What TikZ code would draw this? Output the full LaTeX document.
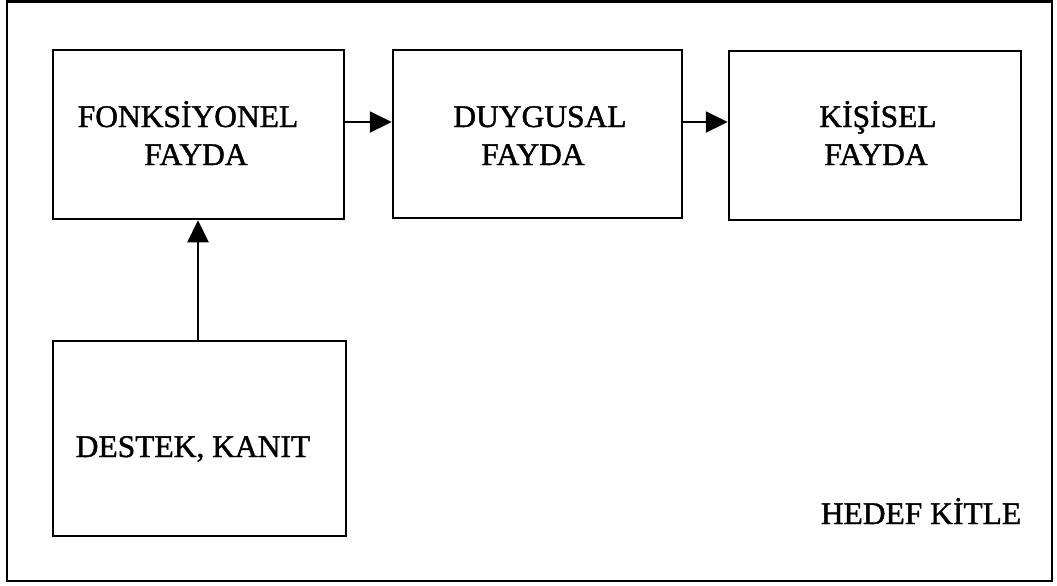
\documentclass[tikz,border=0pt]{standalone}
\usepackage{fontspec}
\setmainfont{Liberation Serif}[FakeBold=1.3]
\usetikzlibrary{arrows.meta}
\begin{document}
\begin{tikzpicture}[x=1pt,y=-1pt,
  boxframe/.style={draw=black,line width=2.5pt,inner sep=0pt},
  lbl/.style={font=\fontsize{31.5}{38}\selectfont,align=center,inner sep=0pt,text=black},
  link/.style={line width=2.3pt,-{Triangle[length=22pt,width=21pt]}}]
  % page area and outer frame
  \useasboundingbox (0,0) rectangle (1057,586);
  \draw[line width=2.3pt] (7,1.5) rectangle (1052,581);

  % boxes
  \node[boxframe,minimum width=291pt,minimum height=169pt] (fonk) at (198.5,134.5) {};
  \node[boxframe,minimum width=289pt,minimum height=168pt] (duyg) at (537.5,134) {};
  \node[boxframe,minimum width=292pt,minimum height=169pt] (kisi) at (875,135.5) {};
  \node[boxframe,minimum width=293pt,minimum height=195pt] (dest) at (199.5,438.5) {};

  % labels
  \node[lbl,anchor=base] (fonk1) at (188,127) {FONKSİYONEL};
  \node[lbl,anchor=base] (fonk2) at (196,165) {FAYDA};
  \node[lbl,anchor=base] (duyg1) at (540,127) {DUYGUSAL};
  \node[lbl,anchor=base] (duyg2) at (533,165) {FAYDA};
  \node[lbl,anchor=base] (kisi1) at (878,127) {KİŞİSEL};
  \node[lbl,anchor=base] (kisi2) at (876,165) {FAYDA};
  \node[lbl,anchor=base] (dest1) at (193,457) {DESTEK, KANIT};
  \node[lbl,anchor=base] (hedef) at (921,524) {HEDEF KİTLE};

  % connectors
  \draw[link] (fonk.east |- 0,122) -- (duyg.west |- 0,122);
  \draw[link] (duyg.east |- 0,122) -- (kisi.west |- 0,122);
  \draw[link] (dest.north -| 198,0) -- (fonk.south -| 198,0);
\end{tikzpicture}
\end{document}
